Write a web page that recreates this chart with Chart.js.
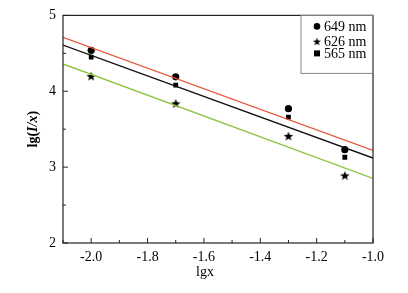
<!DOCTYPE html>
<html>
<head>
<meta charset="utf-8">
<script src="https://cdn.jsdelivr.net/npm/chart.js@4"></script>
<style>
  html, body { margin: 0; padding: 0; background: #fff; }
  #wrap { width: 408px; height: 293px; }
</style>
</head>
<body>
<div id="wrap"><canvas id="c" width="408" height="293"></canvas></div>
<script>
// measured points (lgx, lg(I/x))
const lgx = [-2.0, -1.7, -1.3, -1.1];
const y649 = [4.54, 4.19, 3.77, 3.23];
const y626 = [4.20, 3.84, 3.41, 2.89];
const y565 = [4.45, 4.08, 3.66, 3.13];

// fitted lines, read at the plot edges
const fitX = [-2.1, -1.0];
const fit649 = [4.71, 3.22];
const fit565 = [4.61, 3.12];
const fit626 = [4.36, 2.85];

const seriesNames = ["649 nm", "626 nm", "565 nm"];
const xTicks = [-2.0, -1.8, -1.6, -1.4, -1.2, -1.0];
const xMinor = [-2.1, -1.9, -1.7, -1.5, -1.3, -1.1];
const yTicks = [2, 3, 4, 5];
const yMinor = [2.5, 3.5, 4.5];

const SERIF = "'Liberation Serif', 'DejaVu Serif', serif";

function pts(xs, ys) { return xs.map((x, i) => ({ x: x, y: ys[i] })); }

// filled five point star
function starCanvas(r) {
  const s = Math.ceil(r * 2 + 2);
  const cv = document.createElement("canvas");
  cv.width = s; cv.height = s;
  const g = cv.getContext("2d");
  g.translate(s / 2, s / 2 + 0.5);
  g.beginPath();
  for (let i = 0; i < 10; i++) {
    const rr = i % 2 ? r * 0.42 : r;
    const a = -Math.PI / 2 + i * Math.PI / 5;
    g.lineTo(rr * Math.cos(a), rr * Math.sin(a));
  }
  g.closePath();
  g.fillStyle = "#000";
  g.fill();
  return cv;
}
const star = starCanvas(5);
const smallStar = starCanvas(4.2);

const fitLine = (data, color) => ({
  data: pts(fitX, data), showLine: true, borderColor: color,
  borderWidth: 1.3, pointRadius: 0, fill: false
});
const marks = (data, style, r) => ({
  label: "", data: pts(lgx, data), showLine: false, pointStyle: style,
  pointRadius: r, backgroundColor: "#000", borderColor: "#000", borderWidth: 0
});

const frame = {
  id: "frame",
  afterDraw(chart) {
    const { ctx, chartArea: a, scales: { x, y } } = chart;
    ctx.save();
    ctx.strokeStyle = "#222";
    ctx.lineWidth = 1.2;
    ctx.strokeRect(a.left, a.top, a.right - a.left, a.bottom - a.top);
    ctx.lineWidth = 1;
    ctx.beginPath();
    xTicks.forEach(v => { const p = x.getPixelForValue(v); ctx.moveTo(p, a.bottom); ctx.lineTo(p, a.bottom - 5); });
    xMinor.forEach(v => { const p = x.getPixelForValue(v); ctx.moveTo(p, a.bottom); ctx.lineTo(p, a.bottom - 3); });
    yTicks.forEach(v => { const p = y.getPixelForValue(v); ctx.moveTo(a.left, p); ctx.lineTo(a.left + 5, p); });
    yMinor.forEach(v => { const p = y.getPixelForValue(v); ctx.moveTo(a.left, p); ctx.lineTo(a.left + 3, p); });
    ctx.stroke();

    // legend box
    const lx = a.right - 72, ly = a.top, lw = 72, lh = 58;
    ctx.strokeStyle = "#888";
    ctx.strokeRect(lx, ly, lw, lh);
    ctx.fillStyle = "#000";
    ctx.font = "14px " + SERIF;
    ctx.textBaseline = "middle";
    const rows = [ly + 11, ly + 26, ly + 38];
    seriesNames.forEach((n, i) => {
      const mx = lx + 16, my = rows[i];
      if (i === 0) { ctx.beginPath(); ctx.arc(mx, my, 3.3, 0, Math.PI * 2); ctx.fill(); }
      else if (i === 1) { ctx.drawImage(smallStar, mx - smallStar.width / 2, my - smallStar.height / 2); }
      else { ctx.fillRect(mx - 3, my - 3, 6, 6); }
      ctx.fillText(n, lx + 23, my + 1);
    });

    // x axis title
    ctx.textAlign = "center";
    ctx.font = "14px " + SERIF;
    ctx.fillText("lgx", 205, 272);

    // y axis title: lg(I/x), bold with italic I/x
    ctx.translate(33, (a.top + a.bottom) / 2);
    ctx.rotate(-Math.PI / 2);
    const parts = [["lg(", "bold "], ["I/x", "italic bold "], [")", "bold "]];
    let w = 0;
    parts.forEach(p => { ctx.font = p[1] + "14px " + SERIF; w += ctx.measureText(p[0]).width; });
    let cx = -w / 2;
    ctx.textAlign = "left";
    parts.forEach(p => { ctx.font = p[1] + "14px " + SERIF; ctx.fillText(p[0], cx, 0); cx += ctx.measureText(p[0]).width; });
    ctx.restore();
  }
};

new Chart(document.getElementById("c"), {
  type: "scatter",
  data: {
    datasets: [
      fitLine(fit649, "#e8553a"),
      fitLine(fit565, "#111111"),
      fitLine(fit626, "#8dc23e"),
      marks(y649, "circle", 3.6),
      marks(y565, "rect", 3.4),
      marks(y626, star, 5)
    ]
  },
  options: {
    responsive: false,
    animation: false,
    layout: { padding: { top: 15, right: 35, left: 0, bottom: 0 } },
    plugins: { legend: { display: false }, tooltip: { enabled: false } },
    scales: {
      x: {
        type: "linear", min: -2.1, max: -1.0,
        afterBuildTicks: s => { s.ticks = xTicks.map(v => ({ value: v })); },
        afterFit: s => { s.height = 50; },
        grid: { display: false, drawTicks: false },
        border: { display: false },
        ticks: {
          color: "#000", padding: 6, maxRotation: 0,
          font: { family: SERIF, size: 14 },
          callback: v => v.toFixed(1)
        }
      },
      y: {
        type: "linear", min: 2, max: 5,
        afterBuildTicks: s => { s.ticks = yTicks.map(v => ({ value: v })); },
        afterFit: s => { s.width = 63; },
        grid: { display: false, drawTicks: false },
        border: { display: false },
        ticks: { color: "#000", padding: 7, font: { family: SERIF, size: 14 } }
      }
    }
  },
  plugins: [frame]
});
</script>
</body>
</html>
